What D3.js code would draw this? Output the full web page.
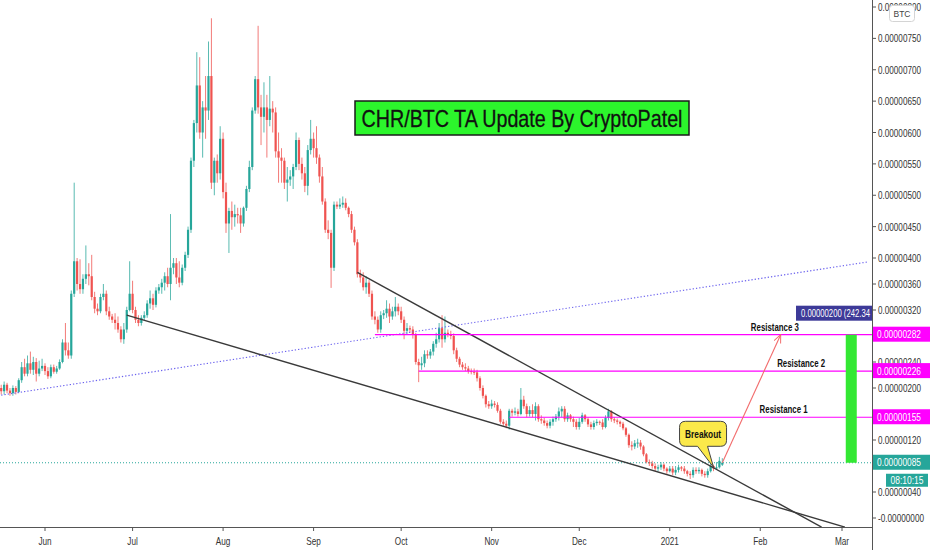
<!DOCTYPE html>
<html><head><meta charset="utf-8">
<script src="https://cdn.jsdelivr.net/npm/d3@7"></script>
<style>html,body{margin:0;padding:0;background:#fff;} svg{display:block;font-family:"Liberation Sans",Arial,sans-serif;}</style>
</head><body><svg id="c" width="932" height="550"></svg>
<script>
// ---- data (prices in units of 1e-8 BTC) ----
const firstCandle = Date.UTC(2020,4,17);
const opens=[200,195,205,196,192,200,194,212,232,222,238,228,240,222,230,234,226,218,232,225,230,240,270,258,250,345,395,360,352,368,375,372,340,322,318,340,345,318,310,305,300,290,275,290,320,345,320,305,300,308,312,330,338,328,350,355,362,372,360,385,392,370,362,385,405,445,555,615,675,600,640,635,690,520,555,535,590,505,455,475,465,470,468,455,480,510,545,635,685,640,625,640,620,638,632,570,560,555,520,525,530,545,588,550,535,515,572,590,575,560,530,490,445,440,385,485,482,485,488,480,470,445,425,375,370,355,362,345,310,305,290,312,315,322,310,318,325,318,305,288,292,290,282,240,235,238,252,250,256,268,275,292,275,285,282,280,258,245,236,232,230,226,225,224,215,200,188,175,172,176,174,165,148,145,142,165,162,164,160,182,172,160,166,160,172,152,150,146,142,148,152,156,164,168,152,158,152,148,140,148,158,152,144,140,146,148,147,140,154,164,152,150,148,145,138,128,112,110,115,116,110,98,86,84,80,76,78,82,76,72,76,70,74,78,76,72,68,66,74,72,74,68,66,72,80,76,78,82];
const highs=[205,210,208,200,204,203,215,240,245,250,256,248,246,242,245,238,232,236,236,234,244,275,300,270,350,520,400,398,375,420,392,405,348,330,345,360,350,325,314,315,310,295,300,325,395,365,325,312,312,318,335,350,345,355,360,368,378,385,470,400,400,395,390,410,450,560,620,728,720,650,690,745,782,560,565,610,600,520,480,490,485,480,480,482,515,555,640,690,770,660,680,660,690,650,640,600,575,560,545,540,550,600,592,560,545,580,620,600,610,565,545,495,460,445,490,490,495,498,495,482,475,450,430,382,378,372,366,350,318,310,318,320,335,330,325,340,330,325,310,300,296,295,285,245,248,258,258,260,272,285,300,312,310,290,288,284,262,248,240,238,234,230,230,228,218,204,190,180,182,180,178,168,152,150,168,168,170,168,200,188,176,172,175,178,175,158,154,150,152,156,160,170,172,172,162,160,156,152,154,162,160,155,148,150,152,150,152,158,168,166,155,153,150,148,140,130,118,120,122,120,112,100,90,88,84,82,86,84,78,80,80,80,82,80,80,74,72,78,78,78,76,72,76,84,82,86,94,92];
const lows=[190,190,192,188,188,190,192,208,218,218,222,220,210,218,226,220,214,215,222,222,228,238,250,245,245,340,350,345,345,360,358,335,315,312,315,335,312,305,300,290,285,270,268,285,318,315,300,295,296,304,308,322,320,324,345,345,350,355,335,375,360,355,358,380,400,440,545,600,590,560,590,620,510,500,520,525,495,440,408,445,450,455,440,450,475,505,540,630,630,580,600,560,610,600,560,520,520,510,490,515,510,540,540,525,505,500,565,560,550,520,485,440,430,354,380,478,478,480,476,465,440,420,370,362,350,345,340,305,298,285,285,306,308,300,305,310,312,300,275,282,285,276,236,209,228,232,245,245,250,262,270,262,270,278,275,252,240,232,228,226,222,221,220,210,196,184,170,168,168,170,162,145,142,138,136,156,158,156,158,168,155,156,155,150,148,145,142,138,138,142,148,150,155,148,148,148,140,136,136,145,148,140,136,136,142,143,136,138,150,148,146,144,140,135,125,108,104,106,108,105,95,84,80,76,72,72,74,72,68,70,66,66,70,72,68,64,60,62,68,68,64,62,62,70,72,74,76,80];
const closes=[195,205,196,192,200,194,212,232,222,238,228,240,222,230,234,226,218,232,225,230,240,270,258,250,345,395,360,352,368,375,372,340,322,318,340,345,318,310,305,300,290,275,290,320,345,320,305,300,308,312,330,338,328,350,355,362,372,360,385,392,370,362,385,405,445,555,615,675,600,640,635,690,520,555,535,590,505,455,475,465,470,468,455,480,510,545,635,685,640,625,640,620,638,632,570,560,555,520,525,530,545,588,550,535,515,572,590,575,560,530,490,445,440,385,485,482,485,488,480,470,445,425,375,370,355,362,345,310,305,290,312,315,322,310,318,325,318,305,288,292,290,282,240,235,238,252,250,256,268,275,292,275,285,282,280,258,245,236,232,230,226,225,224,215,200,188,175,172,176,174,165,148,145,142,165,162,164,160,182,172,160,166,160,172,152,150,146,142,148,152,156,164,168,152,158,152,148,140,148,158,152,144,140,146,148,147,140,154,164,152,150,148,145,138,128,112,110,115,116,110,98,86,84,80,76,78,82,76,72,76,70,74,78,76,72,68,66,74,72,74,68,66,72,80,76,78,88,85];

const monthTicks=[Date.UTC(2020,5,1),Date.UTC(2020,6,1),Date.UTC(2020,7,1),Date.UTC(2020,8,1),Date.UTC(2020,9,1),Date.UTC(2020,10,1),Date.UTC(2020,11,1),Date.UTC(2021,0,1),Date.UTC(2021,1,1),Date.UTC(2021,2,1)];
const monthLabels=["Jun","Jul","Aug","Sep","Oct","Nov","Dec","2021","Feb","Mar"];
const priceTicks=[800,750,700,650,600,550,500,450,400,360,320,240,200,120,40,0];
const priceTickLabels=["0.00000800","0.00000750","0.00000700","0.00000650","0.00000600","0.00000550","0.00000500","0.00000450","0.00000400","0.00000360","0.00000320","0.00000240","0.00000200","0.00000120","0.00000040","-0.00000000"];

const resistanceValues=[155,226,282];
const resistanceNames=["Resistance 1","Resistance 2","Resistance 3"];
const resistanceLabels=["0.00000155","0.00000226","0.00000282"];
const resistanceFrom=[Date.UTC(2020,10,7),Date.UTC(2020,9,7),Date.UTC(2020,8,22)];
const resistanceTextAt=[Date.UTC(2021,1,9),Date.UTC(2021,1,15),Date.UTC(2021,1,6)];

const lastPrice=85, lastPriceLabel="0.00000085", countdown="08:10:15";
const measureFrom=85, measureTo=282, measureDate=Date.UTC(2021,2,4), measureLabel="0.00000200 (242.34";
const upperTrend=[[Date.UTC(2020,8,16),378],[Date.UTC(2021,1,22),-14]];
const lowerTrend=[[Date.UTC(2020,5,29),312],[Date.UTC(2021,2,2),-14]];
const dottedTrend=[[Date.UTC(2020,4,17),189],[Date.UTC(2021,2,10),394]];
const projection=[[Date.UTC(2021,0,19),85],[Date.UTC(2021,1,8),282]];
const breakoutTip=[Date.UTC(2021,0,16),78];
const title="CHR/BTC TA Update By CryptoPatel";

// ---- scales ----
const DAY=86400000;
const x=d3.scaleUtc().domain([Date.UTC(2020,5,1),Date.UTC(2021,2,1)]).range([45,842]);
const y=d3.scaleLinear().domain([0,400,800]).range([518,258,7]);
const plotR=872, plotB=527;
const svg=d3.select("#c");
const GREEN="#26a69a", RED="#ef5350", MAG="#ff00ff";

function fitW(sel,w){sel.attr("textLength",w).attr("lengthAdjust","spacingAndGlyphs");}
function condense(sel,f){sel.each(function(){const L=this.getComputedTextLength();this.setAttribute("textLength",L*f);this.setAttribute("lengthAdjust","spacingAndGlyphs");});}

const defs=svg.append("defs");
defs.append("clipPath").attr("id","plot").append("rect").attr("x",0).attr("y",0).attr("width",plotR).attr("height",plotB);
defs.append("marker").attr("id","arr").attr("viewBox","0 0 10 10").attr("refX",9).attr("refY",5)
  .attr("markerWidth",9).attr("markerHeight",9).attr("orient","auto").attr("markerUnits","userSpaceOnUse")
  .append("path").attr("d","M0,1 L9,5 L0,9").attr("fill","none").attr("stroke","#f26d6d").attr("stroke-width",1.1);

const plot=svg.append("g").attr("clip-path","url(#plot)");

// candles
const candles=opens.map((o,i)=>({t:firstCandle+i*DAY,o,h:highs[i],l:lows[i],c:closes[i]}));
const cg=plot.append("g");
cg.selectAll("line.w").data(candles).join("line").attr("class","w")
  .attr("x1",d=>x(d.t)).attr("x2",d=>x(d.t)).attr("y1",d=>y(d.h)).attr("y2",d=>y(d.l))
  .attr("stroke",d=>d.c>=d.o?GREEN:RED).attr("stroke-width",0.9).attr("opacity",0.85);
cg.selectAll("rect.b").data(candles).join("rect").attr("class","b")
  .attr("x",d=>x(d.t)-1.1).attr("width",2.2)
  .attr("y",d=>y(Math.max(d.o,d.c))).attr("height",d=>Math.max(1,Math.abs(y(d.o)-y(d.c))))
  .attr("fill",d=>d.c>=d.o?GREEN:RED);

// current price dotted line
plot.append("line").attr("x1",0).attr("x2",plotR).attr("y1",y(lastPrice)).attr("y2",y(lastPrice))
  .attr("stroke",GREEN).attr("stroke-dasharray","1,2").attr("stroke-width",1);

// dotted trend line
const ln=d3.line().x(d=>x(d[0])).y(d=>y(d[1]));
plot.append("path").attr("d",ln(dottedTrend)).attr("fill","none").attr("stroke","#6c63ee").attr("stroke-width",1.1).attr("stroke-dasharray","1.3,2");
// wedge lines
[upperTrend,lowerTrend].forEach(t=>plot.append("path").attr("d",ln(t)).attr("fill","none").attr("stroke","#3a3a3a").attr("stroke-width",1.4));

// resistance lines
resistanceValues.forEach((v,i)=>{
  plot.append("line").attr("x1",x(resistanceFrom[i])).attr("x2",plotR).attr("y1",y(v)).attr("y2",y(v)).attr("stroke",MAG).attr("stroke-width",1.2);
  const t=svg.append("text").attr("x",x(resistanceTextAt[i])).attr("y",y(v)-4).attr("text-anchor","middle")
    .attr("font-size",11).attr("font-weight","bold").attr("fill","#111").text(resistanceNames[i]);
  fitW(t,48);
});

// projection arrow
plot.append("path").attr("d",ln(projection)).attr("fill","none").attr("stroke","#f26d6d").attr("stroke-width",1.1).attr("marker-end","url(#arr)");

// measure bar
svg.append("rect").attr("x",x(measureDate)-5).attr("width",11).attr("y",y(measureTo)).attr("height",y(measureFrom)-y(measureTo)).attr("fill","#33e833");
svg.append("rect").attr("x",796).attr("y",y(measureTo)-29).attr("width",plotR-796).attr("height",15).attr("fill","#3d3a98");
const ml=svg.append("text").attr("x",801).attr("y",y(measureTo)-21.5).attr("dominant-baseline","central").attr("font-size",10).attr("fill","#fff").text(measureLabel);
fitW(ml,69);

// breakout bubble
{
  const tx=x(breakoutTip[0]), ty=y(breakoutTip[1]);
  const L=tx-34,R=tx+13,T=ty-46,B=ty-21,r=6,a=tx-16,b=tx-6;
  const p=`M${L+r},${T} H${R-r} Q${R},${T} ${R},${T+r} V${B-r} Q${R},${B} ${R-r},${B} H${b} L${tx},${ty} L${a},${B} H${L+r} Q${L},${B} ${L},${B-r} V${T+r} Q${L},${T} ${L+r},${T} Z`;
  svg.append("path").attr("d",p).attr("fill","#fbe94a").attr("stroke","#444").attr("stroke-width",1);
  const bt=svg.append("text").attr("x",(L+R)/2).attr("y",(T+B)/2+0.5).attr("text-anchor","middle").attr("dominant-baseline","central")
    .attr("font-size",10).attr("font-weight","bold").attr("fill","#111").text("Breakout");
  fitW(bt,36);
}

// title
svg.append("rect").attr("x",355).attr("y",101).attr("width",334).attr("height",34).attr("fill","#2cf52c").attr("stroke","#1a1a1a").attr("stroke-width",1.5);
const tt=svg.append("text").attr("x",522).attr("y",118.5).attr("text-anchor","middle").attr("dominant-baseline","central")
  .attr("font-size",24).attr("fill","#111").attr("stroke","#111").attr("stroke-width",0.3).text(title);
fitW(tt,321);

// axes
svg.append("line").attr("x1",0).attr("x2",plotR).attr("y1",plotB+0.5).attr("y2",plotB+0.5).attr("stroke","#555");
svg.append("line").attr("x1",plotR+0.5).attr("x2",plotR+0.5).attr("y1",0).attr("y2",550).attr("stroke","#555");
const xa=svg.append("g");
monthTicks.forEach((t,i)=>{
  xa.append("line").attr("x1",x(t)).attr("x2",x(t)).attr("y1",plotB).attr("y2",plotB+4).attr("stroke","#555");
  const tx=xa.append("text").attr("x",x(t)).attr("y",541).attr("text-anchor","middle").attr("dominant-baseline","central")
    .attr("font-size",10.5).attr("fill","#333").text(monthLabels[i]);
  condense(tx,0.78);
});
const ya=svg.append("g");
priceTicks.forEach((v,i)=>{
  ya.append("line").attr("x1",plotR).attr("x2",plotR+4).attr("y1",y(v)).attr("y2",y(v)).attr("stroke","#555");
  const t=ya.append("text").attr("x",878).attr("y",y(v)).attr("dominant-baseline","central").attr("font-size",10.5).attr("fill","#333").text(priceTickLabels[i]);
  fitW(t,priceTickLabels[i].length>10?46:43);
});

// price labels on axis
function tag(v,label,col){
  svg.append("rect").attr("x",plotR+1).attr("y",y(v)-8).attr("width",57).attr("height",15).attr("fill",col);
  const t=svg.append("text").attr("x",877).attr("y",y(v)-0.5).attr("dominant-baseline","central").attr("font-size",10.5).attr("fill","#fff").text(label);
  fitW(t,44);
}
resistanceValues.forEach((v,i)=>tag(v,resistanceLabels[i],MAG));
tag(lastPrice,lastPriceLabel,GREEN);
svg.append("rect").attr("x",886).attr("y",y(lastPrice)+11).attr("width",42).attr("height",13).attr("fill",GREEN);
const cd=svg.append("text").attr("x",907).attr("y",y(lastPrice)+17.5).attr("text-anchor","middle").attr("dominant-baseline","central").attr("font-size",10).attr("fill","#fff").text(countdown);
fitW(cd,33);

// BTC badge
svg.append("rect").attr("x",889.5).attr("y",5.5).attr("width",25).attr("height",16).attr("rx",3).attr("fill","#fff").attr("stroke","#d4d4d4");
const bb=svg.append("text").attr("x",902).attr("y",13.5).attr("text-anchor","middle").attr("dominant-baseline","central").attr("font-size",9.5).attr("fill","#444").text("BTC");
fitW(bb,17);
</script></body></html>
